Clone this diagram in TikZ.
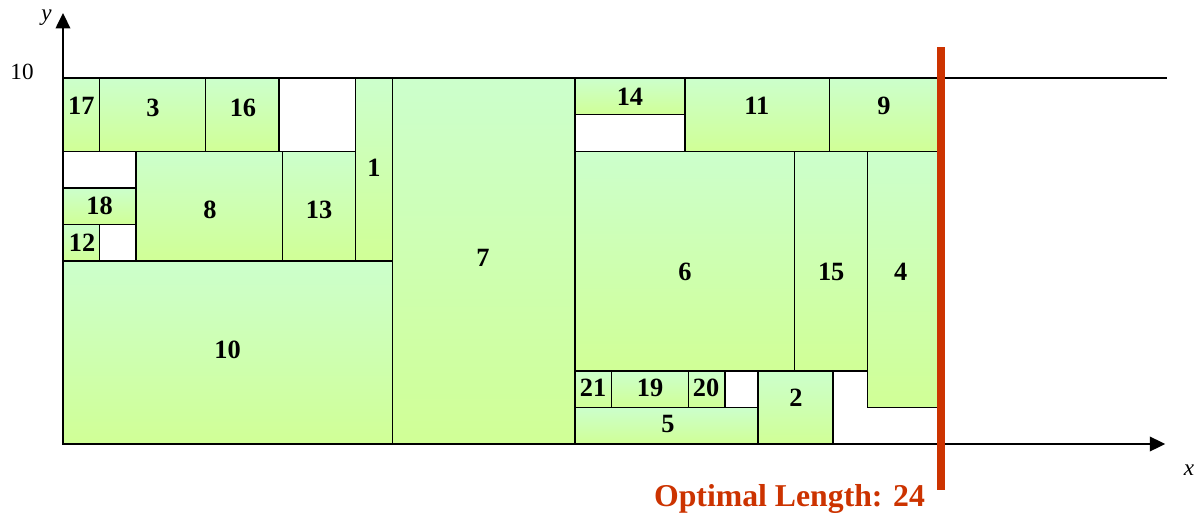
\documentclass[tikz,border=0pt]{standalone}
\usepackage{fontspec}
\setmainfont{Liberation Serif}
\usepackage{tikz}
\usetikzlibrary{arrows.meta, calc, backgrounds}

\definecolor{itemtop}{RGB}{204,255,204}
\definecolor{itembot}{RGB}{208,255,150}
\definecolor{optred}{RGB}{204,51,0}

\begin{document}
\begin{tikzpicture}[x=1cm,y=1cm,
   item/.style={draw=black, line width=1.1pt, top color=itemtop, bottom color=itembot},
   num/.style={font=\fontsize{20.5}{24}\selectfont\bfseries, inner sep=0pt},
   axislab/.style={font=\fontsize{18}{22}\selectfont, inner sep=0pt},
   axis/.style={line width=1.5pt, -{Triangle[length=0.42cm,width=0.4cm]}}]
   \useasboundingbox (-1.722,-1.914) rectangle (31.028,12.138);

   % packed items: corners, label position, number
   \foreach \xa/\ya/\xb/\yb/\lx/\ly/\n in {
      0/8/1/10/0.5/9.24/17, 1/8/3.9/10/2.46/9.2/3, 3.9/8/5.9/10/4.92/9.2/16,
      8/5/9/10/8.5/7.55/1, 0/6/2/7/1.0/6.5/18, 2/5/6/8/4.02/6.4/8,
      6/5/8/8/7.0/6.4/13, 0/5/1/6/0.52/5.5/12, 0/0/9/5/4.5/2.57/10,
      9/0/14/10/11.48/5.08/7, 14/9/17/10/15.5/9.49/14, 17/8/20.95/10/18.97/9.24/11,
      20.95/8/24/10/22.44/9.24/9, 14/2/20/8/17/4.7/6, 20/2/22/8/21/4.7/15,
      22/1/24/8/22.9/4.7/4, 14/1/15/2/14.49/1.53/21, 15/1/17.1/2/16.05/1.53/19,
      17.1/1/18.1/2/17.58/1.53/20, 19/0/21.05/2/20.04/1.26/2, 14/0/19/1/16.54/0.55/5}
   {
      \draw[item] (\xa,\ya) rectangle (\xb,\yb);
      \node[num] (b\n) at (\lx,\ly) {\n};
   }

   % strip and axes
   \coordinate (O) at (0,0);
   \coordinate (xend) at (30.13,0);
   \coordinate (yend) at (0,11.78);
   \coordinate (top0) at (0,10);
   \coordinate (top1) at (30.18,10);
   \draw[line width=1.5pt] (top0) -- (top1);
   \draw[axis] (O) -- (xend);
   \draw[axis] (O) -- (yend);
   \node[axislab, font=\fontsize{18}{22}\selectfont\itshape] (ylab) at (-0.45,11.65) {y};
   \node[axislab] (ten) at (-1.12,10.17) {10};
   \node[axislab, font=\fontsize{18}{22}\selectfont\itshape] (xlab) at (30.78,-0.71) {x};

   % optimal length
   \coordinate (opt0) at (24,10.85);
   \coordinate (opt1) at (24,-1.26);
   \draw[optred, line width=5.8pt] (opt0) -- (opt1);
   \node[anchor=base east, inner sep=0pt, text=optred, font=\fontsize{24.7}{28}\selectfont\bfseries] (optlen) at (23.57,-1.72) {Optimal Length: 24};
\end{tikzpicture}
\end{document}
